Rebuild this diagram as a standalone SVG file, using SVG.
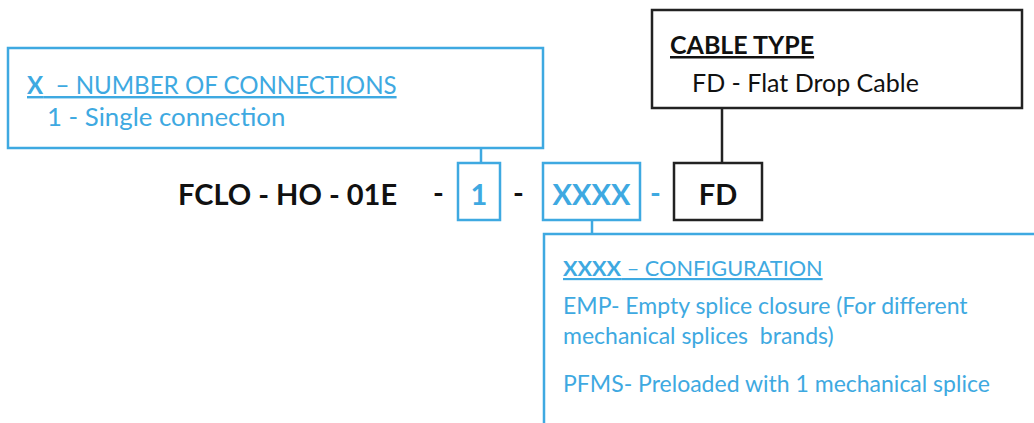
<svg xmlns="http://www.w3.org/2000/svg" width="1034" height="423" viewBox="0 0 1034 423">
<style>
.b{fill:none;stroke:#3ea9e1;stroke-width:2.5}
.k{fill:none;stroke:#222;stroke-width:2.5}
text{font-family:Lato,"Open Sans",sans-serif;white-space:pre}
.bt{fill:#3ea9e1;font-size:23px}
.kt{fill:#111;font-size:25px}
.big{font-size:29px;font-weight:bold}
</style>
<rect width="1034" height="423" fill="#fff"/>
<g id="connectors">
<line class="b" x1="481" y1="148" x2="481" y2="163"/>
<line class="k" x1="722" y1="108" x2="722" y2="163"/>
<line class="b" x1="592" y1="220" x2="592" y2="234"/>
</g>
<g id="num-connections">
<rect class="b" x="8" y="48" width="535" height="100"/>
<text class="bt" x="27" y="94" style="font-size:24.1px" text-decoration="underline"><tspan font-weight="bold">X</tspan>  – NUMBER OF CONNECTIONS</text>
<text class="bt" x="47" y="126" style="font-size:25.8px">1 - Single connection</text>
</g>
<g id="cable-type">
<rect class="k" x="652" y="10" width="370" height="98"/>
<text class="kt" x="670" y="54" font-weight="bold" text-decoration="underline">CABLE TYPE</text>
<text class="kt" x="692" y="92">FD - Flat Drop Cable</text>
</g>
<g id="code">
<text class="big" x="178" y="205" fill="#111">FCLO - HO - 01E</text>
<text class="big" x="433" y="203" fill="#111">-</text>
<text class="big" x="513" y="203" fill="#111">-</text>
<text class="big" x="650" y="203" fill="#3ea9e1">-</text>
</g>
<g id="box-1">
<rect class="b" x="458" y="163" width="42" height="57"/>
<text class="big" x="479" y="205" fill="#3ea9e1" text-anchor="middle">1</text>
</g>
<g id="box-xxxx">
<rect class="b" x="543" y="163" width="97" height="57"/>
<text class="big" x="591.5" y="205" fill="#3ea9e1" text-anchor="middle">XXXX</text>
</g>
<g id="box-fd">
<rect class="k" x="674" y="163" width="88" height="57"/>
<text class="big" x="718" y="205" fill="#111" text-anchor="middle">FD</text>
</g>
<g id="configuration">
<path class="b" d="M544,423 V234 H1034"/>
<text class="bt" x="563" y="276" style="font-size:21.7px" text-decoration="underline"><tspan font-weight="bold">XXXX</tspan> – CONFIGURATION</text>
<text class="bt" x="563" y="314">EMP- Empty splice closure (For different</text>
<text class="bt" x="563" y="344">mechanical splices  brands)</text>
<text class="bt" x="563" y="392">PFMS- Preloaded with 1 mechanical splice</text>
</g>
</svg>
